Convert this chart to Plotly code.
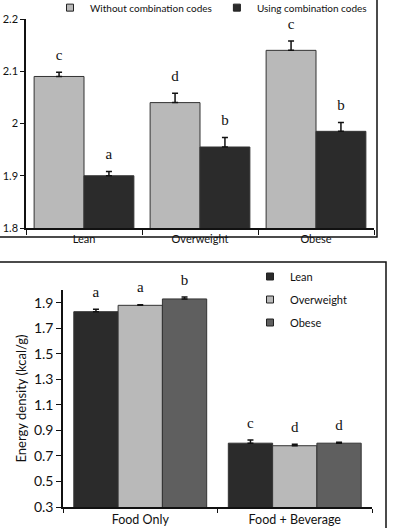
import plotly.graph_objects as go

# ---------------- data ----------------
top_categories = ["Lean", "Overweight", "Obese"]
without_codes = [2.09, 2.04, 2.14]
without_err = [0.008, 0.018, 0.018]
without_letters = ["c", "d", "c"]
with_codes = [1.90, 1.955, 1.985]
with_err = [0.008, 0.018, 0.017]
with_letters = ["a", "b", "b"]
top_ticks = [1.8, 1.9, 2.0, 2.1, 2.2]

bottom_categories = ["Food Only", "Food + Beverage"]
lean_vals = [1.83, 0.80]
lean_err = [0.02, 0.025]
lean_letters = ["a", "c"]
overweight_vals = [1.88, 0.78]
overweight_err = [0.005, 0.012]
overweight_letters = ["a", "d"]
obese_vals = [1.93, 0.80]
obese_err = [0.015, 0.008]
obese_letters = ["b", "d"]
bottom_ticks = [0.3, 0.5, 0.7, 0.9, 1.1, 1.3, 1.5, 1.7, 1.9]

# ---------------- styling helpers ----------------
W, H = 405, 528
def fx(p):
    return p / W
def fy(p):
    return 1 - p / H

SANS = "Lato"
SERIF = "Liberation Serif"
LIGHT = "#b9b9b9"
DARK = "#2b2b2b"
MID = "#5f5f5f"

fig = go.Figure()

def add_bar_with_letters(cats, vals, errs, letters, color, group, xa, ya, name):
    fig.add_trace(go.Bar(
        x=cats, y=vals, name=name, offsetgroup=group,
        marker=dict(color=color, line=dict(color="#333333", width=1)),
        error_y=dict(type="data", array=errs, symmetric=False,
                     arrayminus=[0] * len(errs), color="#111111",
                     thickness=1.5, width=3),
        showlegend=False, xaxis=xa, yaxis=ya, hoverinfo="skip"))
    fig.add_trace(go.Scatter(
        x=cats, y=[v + e for v, e in zip(vals, errs)], offsetgroup=group,
        mode="markers+text", text=letters, textposition="top center",
        marker=dict(size=12, opacity=0),
        textfont=dict(family=SERIF, size=15, color="#111111"),
        cliponaxis=False, showlegend=False, xaxis=xa, yaxis=ya,
        hoverinfo="skip"))

add_bar_with_letters(top_categories, without_codes, without_err, without_letters,
                     LIGHT, "t1", "x", "y", "Without combination codes")
add_bar_with_letters(top_categories, with_codes, with_err, with_letters,
                     DARK, "t2", "x", "y", "Using combination codes")

add_bar_with_letters(bottom_categories, lean_vals, lean_err, lean_letters,
                     DARK, "b1", "x2", "y2", "Lean")
add_bar_with_letters(bottom_categories, overweight_vals, overweight_err, overweight_letters,
                     LIGHT, "b2", "x2", "y2", "Overweight")
add_bar_with_letters(bottom_categories, obese_vals, obese_err, obese_letters,
                     MID, "b3", "x2", "y2", "Obese")

# legend entries (small square markers) on a hidden helper axis
def legend_entry(name, color, legend, group):
    fig.add_trace(go.Scatter(
        x=[None], y=[None], mode="markers", name=name, legend=legend,
        legendgroup=group,
        marker=dict(symbol="square", size=7, color=color,
                    line=dict(color="#222222", width=1)),
        xaxis="x3", yaxis="y3"))

legend_entry("Without combination codes", LIGHT, "legend", "g1")
legend_entry("Using combination codes", DARK, "legend", "g2")
legend_entry("Lean", DARK, "legend2", "h1")
legend_entry("Overweight", LIGHT, "legend2", "h2")
legend_entry("Obese", MID, "legend2", "h3")

axis_common = dict(showline=True, linecolor="#111111", linewidth=1.5,
                   ticks="outside", tickcolor="#111111",
                   showgrid=False, zeroline=False, automargin=False)

fig.update_layout(
    template="none",
    width=W, height=H,
    margin=dict(l=0, r=0, t=0, b=0, autoexpand=False),
    paper_bgcolor="white", plot_bgcolor="white",
    font=dict(family=SANS, color="#111111"),
    barmode="group", bargap=0.14, bargroupgap=0,
    scattermode="group", scattergap=0.14,
    xaxis=dict(domain=[fx(26), fx(374)], anchor="y", tickson="boundaries",
               ticklen=5, tickfont=dict(size=11), **axis_common),
    yaxis=dict(domain=[fy(228), fy(19)], anchor="x", range=[1.8, 2.2],
               tickvals=top_ticks, ticklen=4, tickfont=dict(size=11),
               **axis_common),
    xaxis2=dict(domain=[fx(63), fx(372)], anchor="y2", tickson="boundaries",
                ticklen=4, tickfont=dict(size=12.5), **axis_common),
    yaxis2=dict(domain=[fy(507), fy(290)], anchor="x2", range=[0.3, 2.0],
                tickvals=bottom_ticks, tickformat=".1f", ticklen=5,
                tickfont=dict(size=14),
                title=dict(text="Energy density (kcal/g)", font=dict(size=13),
                           standoff=4),
                **axis_common),
    xaxis3=dict(visible=False, domain=[0, 0.01], anchor="y3"),
    yaxis3=dict(visible=False, domain=[0, 0.01], anchor="x3"),
    legend=dict(orientation="h", x=fx(50), y=1.013, xanchor="left", yanchor="top",
                font=dict(size=10), bgcolor="rgba(0,0,0,0)",
                itemwidth=30, tracegroupgap=0),
    legend2=dict(orientation="v", x=fx(250), y=fy(262), xanchor="left",
                 yanchor="top", font=dict(size=11), bgcolor="rgba(0,0,0,0)",
                 itemwidth=30, tracegroupgap=4),
    shapes=[
        dict(type="rect", xref="paper", yref="paper",
             x0=-0.02, x1=fx(377), y0=fy(237), y1=1.02,
             line=dict(color="#111111", width=1.5)),
        dict(type="rect", xref="paper", yref="paper",
             x0=-0.02, x1=fx(386), y0=-0.02, y1=fy(262),
             line=dict(color="#111111", width=1.5)),
    ],
)

fig.write_html("out.html")
